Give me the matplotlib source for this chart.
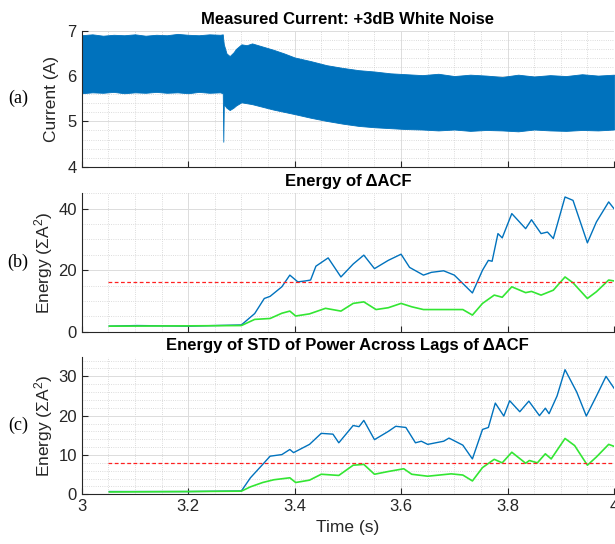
import numpy as np
import matplotlib
matplotlib.use("Agg")
import matplotlib.pyplot as plt
from matplotlib.ticker import MultipleLocator

plt.rcParams['font.family'] = ['Liberation Sans', 'DejaVu Sans']
plt.rcParams['mathtext.fontset'] = 'custom'
plt.rcParams['mathtext.rm'] = 'Liberation Sans'
plt.rcParams['mathtext.it'] = 'Liberation Sans:italic'

# (a) measured current: envelope of the dense oscillation
t_cur = [3.00, 3.02, 3.04, 3.06, 3.08, 3.10, 3.12, 3.14, 3.16, 3.18, 3.20, 3.22,
         3.24, 3.26, 3.265, 3.266, 3.267, 3.272, 3.278, 3.285, 3.29, 3.30, 3.31,
         3.32, 3.34, 3.36, 3.38, 3.40, 3.43, 3.46, 3.49, 3.52, 3.55, 3.58, 3.61,
         3.64, 3.67, 3.70, 3.73, 3.76, 3.79, 3.82, 3.85, 3.88, 3.91, 3.94, 3.97, 4.00]
cur_hi = [6.90, 6.92, 6.89, 6.91, 6.90, 6.92, 6.89, 6.91, 6.90, 6.93, 6.91, 6.90,
          6.92, 6.91, 6.92, 6.80, 6.70, 6.50, 6.44, 6.52, 6.60, 6.70, 6.68,
          6.72, 6.65, 6.58, 6.50, 6.41, 6.33, 6.24, 6.18, 6.13, 6.10, 6.06, 6.04,
          6.02, 6.05, 6.00, 6.03, 6.01, 5.98, 6.03, 5.99, 6.02, 6.00, 6.04, 6.01, 6.03]
cur_lo = [5.62, 5.64, 5.63, 5.65, 5.62, 5.64, 5.63, 5.65, 5.63, 5.64, 5.62, 5.65,
          5.63, 5.64, 5.62, 4.55, 5.38, 5.30, 5.25, 5.30, 5.35, 5.42, 5.40,
          5.38, 5.32, 5.26, 5.21, 5.16, 5.08, 5.01, 4.95, 4.90, 4.87, 4.85, 4.83,
          4.82, 4.80, 4.82, 4.79, 4.81, 4.80, 4.78, 4.82, 4.80, 4.79, 4.81, 4.80, 4.82]

# (b) energy of delta ACF
t_b_blue = [3.052, 3.103, 3.20, 3.30, 3.325, 3.343, 3.354, 3.376, 3.391, 3.406, 3.42,
            3.43, 3.44, 3.463, 3.487, 3.51, 3.53, 3.55, 3.576, 3.60, 3.616, 3.642,
            3.657, 3.68, 3.70, 3.734, 3.753, 3.764, 3.771, 3.782, 3.79, 3.808, 3.834,
            3.845, 3.863, 3.875, 3.886, 3.908, 3.923, 3.95, 3.967, 3.99, 4.0]
b_blue = [1.8, 2.0, 1.8, 2.2, 5.9, 10.8, 11.5, 14.6, 18.4, 16.2, 16.5,
          16.8, 21.3, 24.0, 17.8, 22.0, 24.9, 20.5, 23.2, 25.2, 20.9, 18.4,
          19.3, 19.8, 18.4, 12.6, 20.0, 23.2, 22.9, 31.9, 30.5, 38.4, 33.5,
          36.4, 31.9, 32.4, 30.3, 43.8, 42.7, 28.9, 35.7, 42.2, 40.0]
t_b_green = [3.052, 3.20, 3.30, 3.325, 3.354, 3.376, 3.391, 3.402, 3.428, 3.458, 3.487,
             3.51, 3.53, 3.553, 3.576, 3.60, 3.62, 3.642, 3.716, 3.734, 3.753, 3.775,
             3.79, 3.808, 3.834, 3.845, 3.863, 3.886, 3.908, 3.923, 3.95, 3.967, 3.99, 4.0]
b_green = [1.8, 1.9, 2.0, 4.0, 4.3, 6.0, 6.7, 5.1, 5.8, 7.6, 6.7,
           9.2, 9.7, 7.2, 7.8, 9.2, 8.1, 7.2, 7.2, 5.4, 9.2, 11.9,
           11.2, 14.6, 12.7, 13.1, 11.9, 13.5, 17.8, 15.9, 10.8, 13.0, 16.8, 16.5]
b_thresh = 16

# (c) energy of STD of power across lags of delta ACF
t_c_blue = [3.052, 3.20, 3.30, 3.317, 3.34, 3.354, 3.376, 3.391, 3.398, 3.428, 3.45,
            3.472, 3.483, 3.51, 3.521, 3.53, 3.55, 3.576, 3.59, 3.609, 3.627, 3.638,
            3.65, 3.68, 3.69, 3.716, 3.734, 3.753, 3.764, 3.777, 3.793, 3.804, 3.823,
            3.84, 3.86, 3.871, 3.878, 3.893, 3.908, 3.93, 3.948, 3.967, 3.985, 4.0]
c_blue = [0.7, 0.7, 0.85, 4.2, 7.6, 9.7, 10.1, 11.4, 10.6, 12.7, 15.5,
          15.3, 13.1, 17.5, 17.2, 18.8, 13.9, 16.0, 17.3, 17.0, 13.1, 13.5,
          12.7, 13.5, 14.3, 12.5, 9.0, 16.5, 17.0, 23.2, 19.9, 23.8, 21.0,
          23.7, 20.0, 21.9, 20.5, 25.0, 31.7, 26.0, 19.9, 25.0, 30.0, 27.0]
t_c_green = [3.052, 3.20, 3.30, 3.317, 3.34, 3.361, 3.391, 3.402, 3.428, 3.45, 3.483,
             3.51, 3.53, 3.55, 3.576, 3.605, 3.62, 3.65, 3.694, 3.716, 3.734, 3.753,
             3.775, 3.79, 3.808, 3.834, 3.841, 3.856, 3.871, 3.882, 3.908, 3.926,
             3.95, 3.967, 3.99, 4.0]
c_green = [0.6, 0.7, 0.8, 1.9, 3.0, 3.7, 4.2, 3.0, 3.6, 5.1, 4.8,
           7.4, 7.6, 5.1, 5.8, 6.5, 5.1, 4.6, 5.2, 4.9, 3.4, 6.8,
           8.9, 8.0, 10.7, 7.9, 8.6, 8.0, 10.3, 9.0, 14.2, 12.4,
           7.4, 9.5, 12.7, 12.2]
c_thresh = 8

BLUE = '#0072BD'
GREEN = '#33e633'
RED = '#ff2020'
TXT = '#262626'

fig = plt.figure(figsize=(6.15, 5.44), dpi=100)
left, width = 81.7 / 615, (614 - 81.7) / 615
ax_a = fig.add_axes([left, 1 - 166.7 / 544, width, 136 / 544])
ax_b = fig.add_axes([left, 1 - 331.7 / 544, width, 138.4 / 544])
ax_c = fig.add_axes([left, 1 - 494.3 / 544, width, 137.6 / 544])


def style(ax, ylim, major, minor):
    ax.set_xlim(3, 4)
    ax.set_ylim(*ylim)
    ax.xaxis.set_major_locator(MultipleLocator(0.2))
    ax.xaxis.set_minor_locator(MultipleLocator(0.05))
    ax.yaxis.set_major_locator(MultipleLocator(major))
    ax.yaxis.set_minor_locator(MultipleLocator(minor))
    ax.grid(which='major', color='#dcdcdc', lw=0.7, ls='-')
    ax.grid(which='minor', color='#d0d0d0', lw=0.6, ls=':')
    ax.set_axisbelow(True)
    for s in ['top', 'right']:
        ax.spines[s].set_visible(False)
    for s in ['left', 'bottom']:
        ax.spines[s].set_color(TXT)
        ax.spines[s].set_linewidth(0.8)
    ax.tick_params(which='major', direction='in', length=4, width=0.8,
                   colors=TXT, labelsize=12)
    ax.tick_params(which='minor', length=0)
    ax.set_facecolor('white')


style(ax_a, (4, 7), 1, 0.2)
ax_a.fill_between(t_cur, cur_lo, cur_hi, color=BLUE, lw=0.6, edgecolor=BLUE)
ax_a.tick_params(labelbottom=False)
ax_a.set_title('Measured Current: +3dB White Noise', fontsize=12, fontweight='bold',
               pad=5)
ax_a.set_ylabel('Current (A)', fontsize=12.5, color=TXT, labelpad=6)

style(ax_b, (0, 45), 20, 5)
ax_b.plot(t_b_blue, b_blue, color=BLUE, lw=1.0)
ax_b.plot(t_b_green, b_green, color=GREEN, lw=1.2)
ax_b.axhline(b_thresh, xmin=(3.05 - 3), xmax=1, color=RED, ls='--', lw=0.9,
             dashes=(3, 2))
ax_b.tick_params(labelbottom=False)
ax_b.set_title('Energy of \u0394ACF', fontsize=12, fontweight='bold', pad=5)
ax_b.set_ylabel('Energy (\u03a3A$^2$)', fontsize=12.5, color=TXT, labelpad=2)

style(ax_c, (0, 35), 10, 2)
ax_c.plot(t_c_blue, c_blue, color=BLUE, lw=1.0)
ax_c.plot(t_c_green, c_green, color=GREEN, lw=1.2)
ax_c.axhline(c_thresh, xmin=(3.05 - 3), xmax=1, color=RED, ls='--', lw=0.9,
             dashes=(3, 2))
ax_c.set_title('Energy of STD of Power Across Lags of \u0394ACF', fontsize=12,
               fontweight='bold', pad=5)
ax_c.set_ylabel('Energy (\u03a3A$^2$)', fontsize=12.5, color=TXT, labelpad=2)
ax_c.set_xlabel('Time (s)', fontsize=12.5, color=TXT)
ax_c.set_xticks([3, 3.2, 3.4, 3.6, 3.8, 4])
ax_c.set_xticklabels(['3', '3.2', '3.4', '3.6', '3.8', '4'])

for lab, ax in zip(['(a)', '(b)', '(c)'], [ax_a, ax_b, ax_c]):
    pos = ax.get_position()
    fig.text(18 / 615, pos.y0 + pos.height / 2, lab, ha='center', va='center',
             fontsize=13, family='Liberation Serif')

fig.savefig('out.png', dpi=100)
